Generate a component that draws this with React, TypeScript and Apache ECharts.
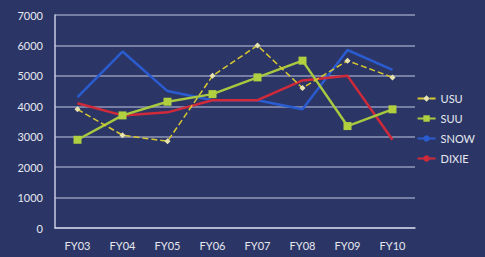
import React, { useEffect, useRef } from "react";
import * as echarts from "echarts";

const categories = ["FY03", "FY04", "FY05", "FY06", "FY07", "FY08", "FY09", "FY10"];
const usu = [3900, 3050, 2850, 5000, 6000, 4600, 5500, 4950];
const suu = [2900, 3700, 4150, 4400, 4950, 5500, 3350, 3900];
const snow = [4300, 5800, 4500, 4200, 4200, 3900, 5850, 5200];
const dixie = [4100, 3700, 3800, 4200, 4200, 4850, 5000, 2900];
const yTicks = { min: 0, max: 7000, interval: 1000 };

export default function App() {
  const ref = useRef<HTMLDivElement>(null);
  useEffect(() => {
    if (!ref.current) return;
    const chart = echarts.init(ref.current, null, { renderer: "svg" });
    const font = "Lato";
    chart.setOption({
      animation: false,
      backgroundColor: "#2b3666",
      textStyle: { fontFamily: font },
      grid: { left: 55, right: 70, top: 15, bottom: 29 },
      legend: {
        orient: "vertical",
        right: 5,
        top: 88,
        itemGap: 9,
        itemWidth: 18,
        itemHeight: 8,
        textStyle: { color: "#e6e8f0", fontSize: 11, fontFamily: font },
        data: ["USU", "SUU", "SNOW", "DIXIE"],
      },
      xAxis: {
        type: "category",
        data: categories,
        boundaryGap: true,
        axisLine: { lineStyle: { color: "#c8cce0", width: 1.5 } },
        axisTick: { show: false },
        axisLabel: { color: "#e6e8f0", fontSize: 11, margin: 12 },
      },
      yAxis: {
        type: "value",
        ...yTicks,
        axisLine: { show: true, lineStyle: { color: "#c8cce0", width: 1.5 } },
        axisTick: { show: false },
        axisLabel: { color: "#e6e8f0", fontSize: 11, margin: 12, formatter: (v: number) => String(v) },
        splitLine: { lineStyle: { color: "#aab2d0", width: 1.5, opacity: 0.8 } },
      },
      series: [
        {
          name: "USU",
          type: "line",
          data: usu,
          symbol: "diamond",
          symbolSize: 6,
          itemStyle: { color: "#e8e4b0" },
          lineStyle: { color: "#d8c830", width: 1.5, type: "dashed" },
          z: 5,
        },
        {
          name: "SUU",
          type: "line",
          data: suu,
          symbol: "rect",
          symbolSize: 8,
          itemStyle: { color: "#b0d040" },
          lineStyle: { color: "#a8c840", width: 2.5 },
          z: 4,
        },
        {
          name: "SNOW",
          type: "line",
          data: snow,
          symbol: "none",
          itemStyle: { color: "#2a5cd0" },
          lineStyle: { color: "#2a5cd0", width: 2.5 },
          z: 2,
        },
        {
          name: "DIXIE",
          type: "line",
          data: dixie,
          symbol: "none",
          itemStyle: { color: "#d02a3a" },
          lineStyle: { color: "#d02a3a", width: 2.5 },
          z: 3,
        },
      ],
    });
    return () => chart.dispose();
  }, []);
  return <div ref={ref} style={{ width: 485, height: 257, position: "absolute", left: 0, top: 0 }} />;
}
